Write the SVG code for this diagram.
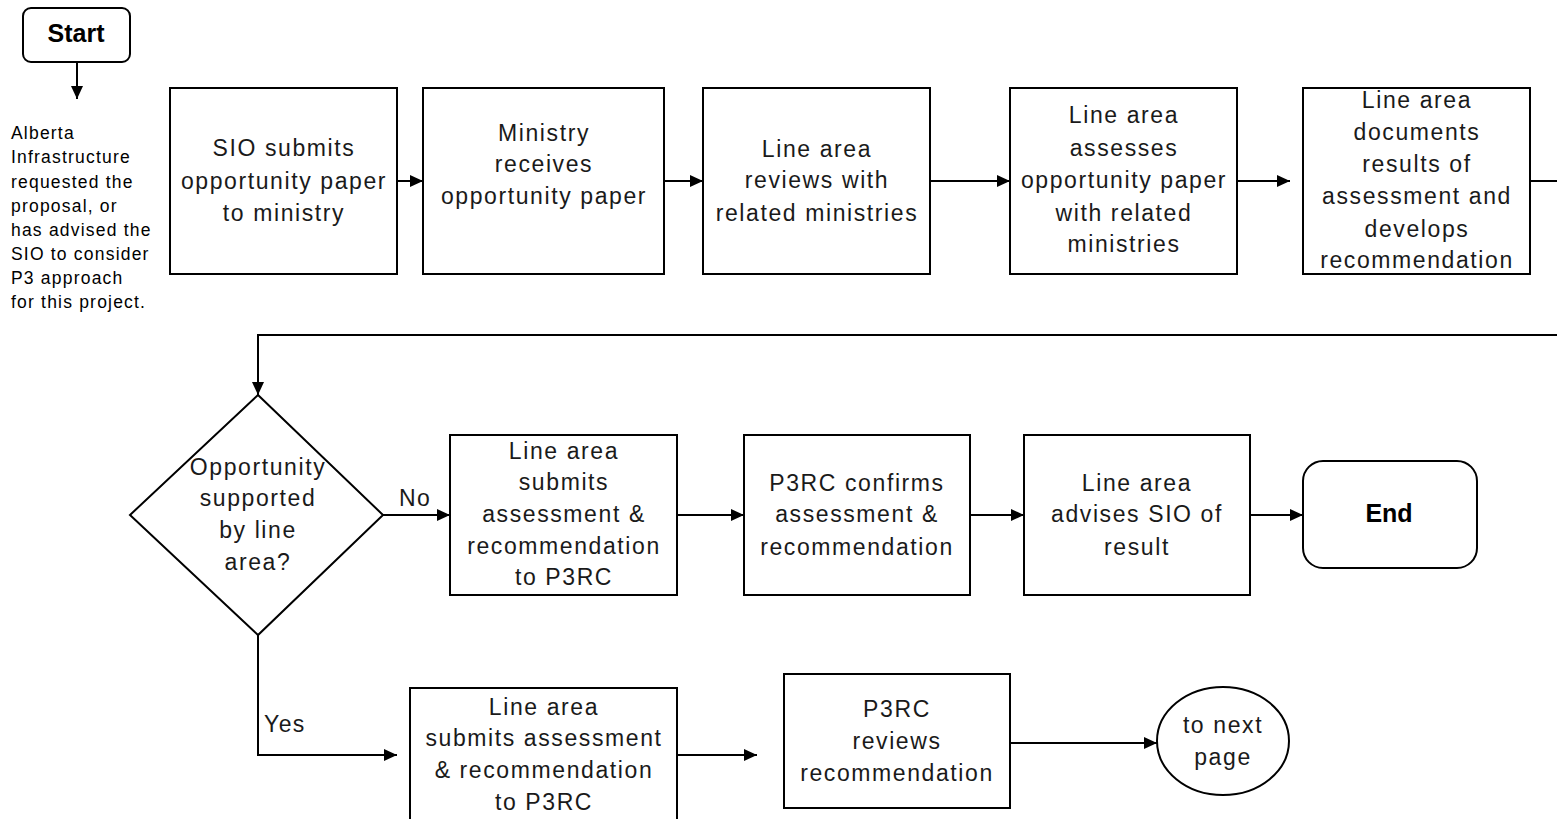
<svg xmlns="http://www.w3.org/2000/svg" width="1557" height="819" viewBox="0 0 1557 819">
  <style>
    .box { fill: #ffffff; stroke: #000000; stroke-width: 2; }
    .lbl { font-family: "Liberation Sans", Arial, sans-serif; font-size: 23px; letter-spacing: 1.6px; fill: #1a1a1a; text-anchor: middle; }
    .term { font-family: "Liberation Sans", Arial, sans-serif; font-size: 25px; font-weight: bold; fill: #000000; text-anchor: middle; }
    .note { font-family: "Liberation Sans", Arial, sans-serif; font-size: 17.5px; letter-spacing: 1.2px; fill: #000000; }
    .edge { fill: none; stroke: #000000; stroke-width: 2; }
    .edge-label { font-family: "Liberation Sans", Arial, sans-serif; font-size: 23px; letter-spacing: 1.4px; fill: #1a1a1a; }
  </style>
  <defs>
    <marker id="arrow" markerUnits="userSpaceOnUse" markerWidth="14" markerHeight="14" refX="13" refY="7" orient="auto">
      <path d="M0,1 L13,7 L0,13 z" fill="#000000"/>
    </marker>
  </defs>

  <rect width="1557" height="819" fill="#ffffff"/>

  <!-- connectors -->
  <g id="connectors">
    <path class="edge" d="M77,62 V99" marker-end="url(#arrow)"/>
    <path class="edge" d="M397,181 H423" marker-end="url(#arrow)"/>
    <path class="edge" d="M664,181 H703" marker-end="url(#arrow)"/>
    <path class="edge" d="M930,181 H1010" marker-end="url(#arrow)"/>
    <path class="edge" d="M1237,181 H1290" marker-end="url(#arrow)"/>
    <path class="edge" d="M1530,181 H1557"/>
    <path class="edge" d="M1557,335 H258 V395" marker-end="url(#arrow)"/>
    <path class="edge" d="M383,515 H450" marker-end="url(#arrow)"/>
    <path class="edge" d="M677,515 H744" marker-end="url(#arrow)"/>
    <path class="edge" d="M970,515 H1024" marker-end="url(#arrow)"/>
    <path class="edge" d="M1250,515 H1303" marker-end="url(#arrow)"/>
    <path class="edge" d="M258,635 V755 H397" marker-end="url(#arrow)"/>
    <path class="edge" d="M677,755 H757" marker-end="url(#arrow)"/>
    <path class="edge" d="M1010,743 H1157" marker-end="url(#arrow)"/>
    <text class="edge-label" x="399" y="506">No</text>
    <text class="edge-label" x="264" y="732">Yes</text>
  </g>

  <!-- start terminal -->
  <g id="start">
    <rect class="box" x="23" y="8" width="107" height="54" rx="8" ry="8"/>
    <text class="term" x="76" y="42">Start</text>
  </g>

  <!-- note under the start terminal -->
  <g id="start-note">
    <text class="note" x="11" y="139">Alberta</text>
    <text class="note" x="11" y="163">Infrastructure</text>
    <text class="note" x="11" y="188">requested the</text>
    <text class="note" x="11" y="212">proposal, or</text>
    <text class="note" x="11" y="236">has advised the</text>
    <text class="note" x="11" y="260">SIO to consider</text>
    <text class="note" x="11" y="284">P3 approach</text>
    <text class="note" x="11" y="308">for this project.</text>
  </g>

  <g id="sio-submits">
    <rect class="box" x="170" y="88" width="227" height="186"/>
    <text class="lbl" x="284" y="156">SIO submits</text>
    <text class="lbl" x="284" y="189">opportunity paper</text>
    <text class="lbl" x="284" y="221">to ministry</text>
  </g>

  <g id="ministry-receives">
    <rect class="box" x="423" y="88" width="241" height="186"/>
    <text class="lbl" x="544" y="141">Ministry</text>
    <text class="lbl" x="544" y="172">receives</text>
    <text class="lbl" x="544" y="204">opportunity paper</text>
  </g>

  <g id="line-reviews">
    <rect class="box" x="703" y="88" width="227" height="186"/>
    <text class="lbl" x="817" y="157">Line area</text>
    <text class="lbl" x="817" y="188">reviews with</text>
    <text class="lbl" x="817" y="221">related ministries</text>
  </g>

  <g id="line-assesses">
    <rect class="box" x="1010" y="88" width="227" height="186"/>
    <text class="lbl" x="1124" y="123">Line area</text>
    <text class="lbl" x="1124" y="156">assesses</text>
    <text class="lbl" x="1124" y="188">opportunity paper</text>
    <text class="lbl" x="1124" y="221">with related</text>
    <text class="lbl" x="1124" y="252">ministries</text>
  </g>

  <g id="line-documents">
    <rect class="box" x="1303" y="88" width="227" height="186"/>
    <text class="lbl" x="1417" y="108">Line area</text>
    <text class="lbl" x="1417" y="140">documents</text>
    <text class="lbl" x="1417" y="172">results of</text>
    <text class="lbl" x="1417" y="204">assessment and</text>
    <text class="lbl" x="1417" y="237">develops</text>
    <text class="lbl" x="1417" y="268">recommendation</text>
  </g>

  <g id="decision">
    <polygon class="box" points="258,395 383,515 258,635 130,515" stroke-width="1.5"/>
    <text class="lbl" x="258" y="475">Opportunity</text>
    <text class="lbl" x="258" y="506">supported</text>
    <text class="lbl" x="258" y="538">by line</text>
    <text class="lbl" x="258" y="570">area?</text>
  </g>

  <g id="submit-no">
    <rect class="box" x="450" y="435" width="227" height="160"/>
    <text class="lbl" x="564" y="459">Line area</text>
    <text class="lbl" x="564" y="490">submits</text>
    <text class="lbl" x="564" y="522">assessment &amp;</text>
    <text class="lbl" x="564" y="554">recommendation</text>
    <text class="lbl" x="564" y="585">to P3RC</text>
  </g>

  <g id="p3rc-confirms">
    <rect class="box" x="744" y="435" width="226" height="160"/>
    <text class="lbl" x="857" y="491">P3RC confirms</text>
    <text class="lbl" x="857" y="522">assessment &amp;</text>
    <text class="lbl" x="857" y="555">recommendation</text>
  </g>

  <g id="advises-sio">
    <rect class="box" x="1024" y="435" width="226" height="160"/>
    <text class="lbl" x="1137" y="491">Line area</text>
    <text class="lbl" x="1137" y="522">advises SIO of</text>
    <text class="lbl" x="1137" y="555">result</text>
  </g>

  <g id="end">
    <rect class="box" x="1303" y="461" width="174" height="107" rx="20" ry="20"/>
    <text class="term" x="1389" y="522">End</text>
  </g>

  <g id="submit-yes">
    <rect class="box" x="410" y="688" width="267" height="145"/>
    <text class="lbl" x="544" y="715">Line area</text>
    <text class="lbl" x="544" y="746">submits assessment</text>
    <text class="lbl" x="544" y="778">&amp; recommendation</text>
    <text class="lbl" x="544" y="810">to P3RC</text>
  </g>

  <g id="p3rc-reviews">
    <rect class="box" x="784" y="674" width="226" height="134"/>
    <text class="lbl" x="897" y="717">P3RC</text>
    <text class="lbl" x="897" y="749">reviews</text>
    <text class="lbl" x="897" y="781">recommendation</text>
  </g>

  <g id="next-page">
    <ellipse class="box" cx="1223" cy="741" rx="66" ry="54" stroke-width="1.5"/>
    <text class="lbl" x="1223" y="733">to next</text>
    <text class="lbl" x="1223" y="765">page</text>
  </g>
</svg>
